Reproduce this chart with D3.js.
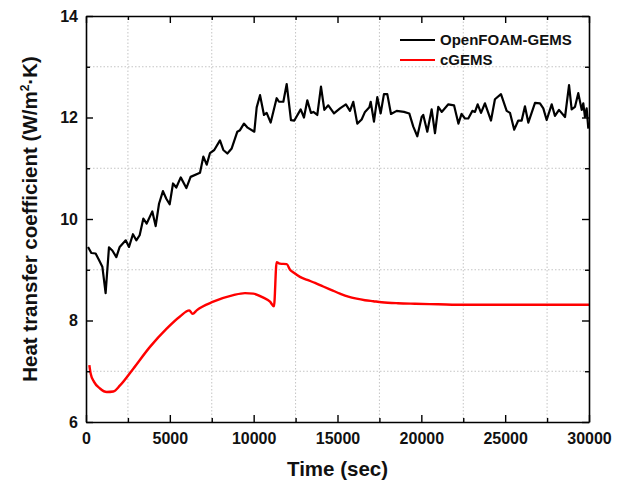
<!DOCTYPE html>
<html>
<head>
<meta charset="utf-8">
<script src="https://cdn.jsdelivr.net/npm/d3@7"></script>
<style>
    body { margin: 0; background: #fff; }
    text { font-family: "Liberation Sans", Arial, sans-serif; font-weight: bold; fill: #111; }
    .grid line { stroke: #c4c4c4; stroke-dasharray: 1.5, 2; stroke-width: 1; }
</style>
</head>
<body>
<div id="vis"></div>
<script>
    // OpenFOAM-GEMS (time in sec, value)
    var foamTime = [120, 320, 575, 775, 975, 1170, 1370, 1570, 1810, 2010, 2370, 2565, 2800, 3000, 3200, 3420, 3620, 3955, 4155, 4355,
        4590, 4790, 4990, 5190, 5385, 5650, 5985, 6240, 6800, 7000, 7200, 7395, 7650, 7990, 8190, 8430, 8690, 9025, 9185, 9420,
        9640, 10040, 10180, 10380, 10615, 10775, 11015, 11370, 11510, 11770, 11970, 12225, 12425, 12805, 13000, 13200, 13420, 13560, 13795, 14015,
        14215, 14450, 14790, 15150, 15500, 15745, 15940, 16180, 16440, 16640, 16900, 16980, 17175, 17375, 17575, 17770, 17970, 18190, 18530, 18965,
        19280, 19520, 19760, 20020, 20115, 20355, 20615, 20815, 21010, 21215, 21610, 21950, 22210, 22400, 22600, 22800, 23040, 23200, 23360, 23560,
        23795, 24155, 24390, 24750, 25090, 25290, 25540, 25780, 25985, 26180, 26380, 26780, 27075, 27275, 27475, 27775, 27970, 28210, 28570, 28810,
        28965, 29165, 29360, 29565, 29660, 29760, 29860, 29960];
    var foamValue = [9.45, 9.33, 9.32, 9.19, 9.06, 8.54, 9.44, 9.38, 9.25, 9.45, 9.58, 9.45, 9.70, 9.58, 9.68, 10.01, 9.91, 10.15, 9.86, 10.30,
        10.55, 10.40, 10.29, 10.70, 10.62, 10.82, 10.61, 10.83, 10.91, 11.23, 11.07, 11.30, 11.36, 11.55, 11.36, 11.29, 11.39, 11.72, 11.75, 11.88,
        11.80, 11.72, 12.20, 12.44, 12.05, 12.09, 11.90, 12.38, 12.31, 12.31, 12.66, 11.95, 11.94, 12.16, 12.00, 12.34, 12.09, 12.11, 12.05, 12.61,
        12.15, 12.24, 12.08, 12.18, 12.26, 12.13, 12.31, 11.88, 11.96, 12.11, 12.20, 12.31, 11.92, 12.40, 12.08, 12.46, 12.46, 12.07, 12.13, 12.11,
        12.08, 11.82, 11.63, 12.01, 12.05, 11.72, 12.16, 11.69, 12.21, 12.11, 12.26, 12.24, 11.88, 12.07, 11.98, 11.98, 12.13, 12.11, 12.26, 12.09,
        12.28, 11.94, 12.36, 12.46, 12.13, 12.09, 11.76, 11.94, 11.94, 12.22, 11.90, 12.29, 12.28, 12.18, 11.95, 12.26, 12.03, 12.15, 12.01, 12.64,
        12.16, 12.21, 12.48, 12.15, 12.28, 12.01, 12.18, 11.78];

    // cGEMS
    var cgemsTime = [200, 280, 480, 835, 1235, 1630, 2030, 2820, 3815, 4810, 5605, 6160, 6360, 6600, 7590, 8785, 9480, 9980, 10575, 10975,
        11210, 11370, 11570, 11970, 12170, 12400, 12760, 13200, 13660, 14150, 14650, 15150, 15645, 16140, 16640, 17135, 17635, 18600, 19620,
        21000, 22600, 25585, 30000];
    var cgemsValue = [7.12, 6.95, 6.79, 6.66, 6.59, 6.60, 6.72, 7.05, 7.48, 7.84, 8.08, 8.20, 8.13, 8.20, 8.37, 8.50, 8.54, 8.53, 8.45, 8.37,
        8.28, 9.15, 9.12, 9.11, 9.00, 8.94, 8.86, 8.80, 8.74, 8.67, 8.60, 8.53, 8.47, 8.43, 8.40, 8.38, 8.36, 8.34, 8.33,
        8.32, 8.31, 8.31, 8.31];

    var xTicks = [0, 5000, 10000, 15000, 20000, 25000, 30000];
    var xMinor = [2500, 7500, 12500, 17500, 22500, 27500];
    var yTicks = [6, 8, 10, 12, 14];
    var yMinor = [7, 9, 11, 13];

    var width = 635,
        height = 485;
    var margin = { left: 86, right: 46, top: 16, bottom: 63 };

    var x = d3.scaleLinear().domain([0, 30000]).range([margin.left, width - margin.right]);
    var y = d3.scaleLinear().domain([6, 14]).range([height - margin.bottom, margin.top]);

    var svg = d3.select("#vis").append("svg")
        .attr("width", width)
        .attr("height", height);

    // dotted grid at minor positions
    var grid = svg.append("g").attr("class", "grid");
    grid.selectAll(".gx").data(xMinor).enter().append("line")
        .attr("x1", function(d) { return x(d); })
        .attr("x2", function(d) { return x(d); })
        .attr("y1", y(6))
        .attr("y2", y(14));
    grid.selectAll(".gy").data(yMinor).enter().append("line")
        .attr("x1", x(0))
        .attr("x2", x(30000))
        .attr("y1", function(d) { return y(d); })
        .attr("y2", function(d) { return y(d); });

    var line = d3.line()
        .x(function(d) { return x(d[0]); })
        .y(function(d) { return y(d[1]); });

    svg.append("path")
        .datum(d3.zip(cgemsTime, cgemsValue))
        .attr("d", line.curve(d3.curveMonotoneX))
        .attr("fill", "none")
        .attr("stroke", "#ff0000")
        .attr("stroke-width", 2.4);

    svg.append("path")
        .datum(d3.zip(foamTime, foamValue))
        .attr("d", line.curve(d3.curveLinear))
        .attr("fill", "none")
        .attr("stroke", "#000")
        .attr("stroke-width", 2.2)
        .attr("stroke-linejoin", "round");

    // axes with inward ticks, mirrored on top/right
    function styleAxis(g) {
        g.select(".domain").attr("stroke", "#000").attr("stroke-width", 1.6);
        g.selectAll(".tick line").attr("stroke", "#000").attr("stroke-width", 1.4);
        g.selectAll("text").attr("font-size", 16).attr("font-family", "Liberation Sans, Arial, sans-serif");
    }

    var plotH = y(6) - y(14);

    svg.append("g")
        .attr("transform", "translate(0," + y(6) + ")")
        .call(d3.axisBottom(x).tickValues(xTicks).tickSizeInner(-7).tickSizeOuter(0).tickPadding(11).tickFormat(d3.format("d")))
        .call(styleAxis);
    svg.append("g")
        .attr("transform", "translate(0," + y(6) + ")")
        .call(d3.axisBottom(x).tickValues(xMinor).tickSizeInner(-4).tickSizeOuter(0).tickFormat(""))
        .call(styleAxis)
        .select(".domain").remove();
    svg.append("g")
        .attr("transform", "translate(0," + y(14) + ")")
        .call(d3.axisTop(x).tickValues(xTicks).tickSizeInner(-7).tickSizeOuter(0).tickFormat(""))
        .call(styleAxis);
    svg.append("g")
        .attr("transform", "translate(0," + y(14) + ")")
        .call(d3.axisTop(x).tickValues(xMinor).tickSizeInner(-4).tickSizeOuter(0).tickFormat(""))
        .call(styleAxis)
        .select(".domain").remove();

    svg.append("g")
        .attr("transform", "translate(" + x(0) + ",0)")
        .call(d3.axisLeft(y).tickValues(yTicks).tickSizeInner(-7).tickSizeOuter(0).tickPadding(8))
        .call(styleAxis);
    svg.append("g")
        .attr("transform", "translate(" + x(0) + ",0)")
        .call(d3.axisLeft(y).tickValues(yMinor).tickSizeInner(-4).tickSizeOuter(0).tickFormat(""))
        .call(styleAxis)
        .select(".domain").remove();
    svg.append("g")
        .attr("transform", "translate(" + x(30000) + ",0)")
        .call(d3.axisRight(y).tickValues(yTicks).tickSizeInner(-7).tickSizeOuter(0).tickFormat(""))
        .call(styleAxis);
    svg.append("g")
        .attr("transform", "translate(" + x(30000) + ",0)")
        .call(d3.axisRight(y).tickValues(yMinor).tickSizeInner(-4).tickSizeOuter(0).tickFormat(""))
        .call(styleAxis)
        .select(".domain").remove();

    // axis titles
    svg.append("text")
        .attr("x", x(15000))
        .attr("y", 476)
        .attr("text-anchor", "middle")
        .attr("font-size", 20.5)
        .text("Time (sec)");

    var yt = svg.append("text")
        .attr("transform", "translate(37," + (margin.top + plotH / 2) + ") rotate(-90)")
        .attr("text-anchor", "middle")
        .attr("font-size", 20.5);
    yt.append("tspan").text("Heat transfer coefficient (W/m");
    yt.append("tspan").attr("dy", -8).attr("font-size", 12).text("2");
    yt.append("tspan").attr("dy", 8).text("\u00b7K)");

    // legend
    var legendNames = ["OpenFOAM-GEMS", "cGEMS"];
    var legendColors = ["#000", "#ff0000"];
    var legend = svg.append("g").attr("transform", "translate(400,40)");
    legend.selectAll("line").data(legendNames).enter().append("line")
        .attr("x1", 0)
        .attr("x2", 35)
        .attr("y1", function(d, i) { return i * 20; })
        .attr("y2", function(d, i) { return i * 20; })
        .attr("stroke", function(d, i) { return legendColors[i]; })
        .attr("stroke-width", 2.2);
    legend.selectAll("text").data(legendNames).enter().append("text")
        .attr("x", 40)
        .attr("y", function(d, i) { return i * 20; })
        .attr("dy", "0.36em")
        .attr("font-size", 15)
        .text(function(d) { return d; });
</script>
</body>
</html>
